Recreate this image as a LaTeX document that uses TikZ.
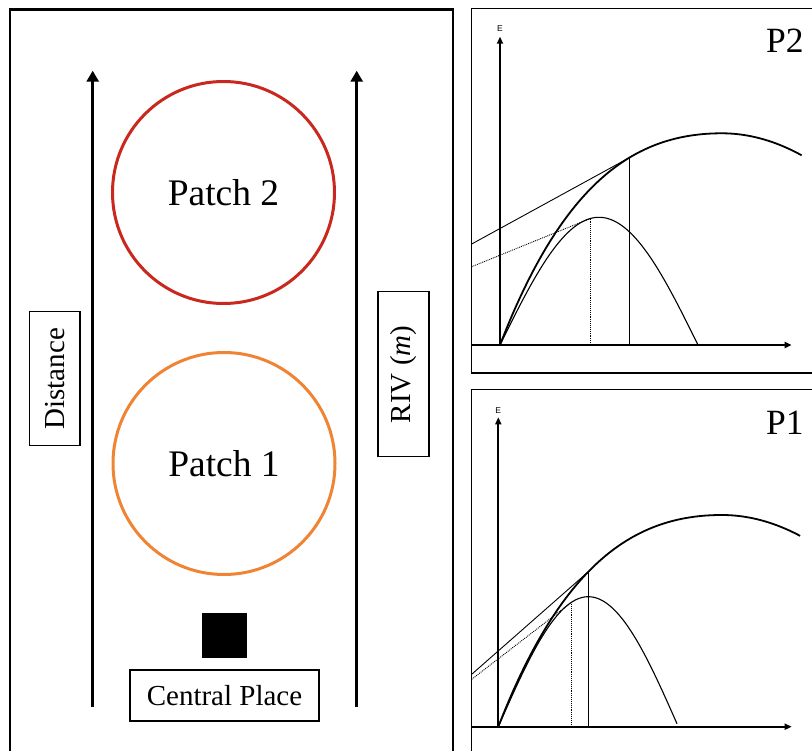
\documentclass[tikz,border=0pt]{standalone}
\usepackage{fontspec}
\setmainfont{Liberation Serif}
\setsansfont{Liberation Sans}
\usetikzlibrary{arrows.meta}
\definecolor{patchred}{RGB}{200,40,30}
\definecolor{patchorange}{RGB}{238,132,52}
\begin{document}
\begin{tikzpicture}[x=1pt,y=-1pt,
  frame/.style={draw, line width=2.7pt},
  panel/.style={draw, line width=1.5pt},
  bigarrow/.style={line width=3pt, -{Triangle[width=12pt,length=11pt]}},
  axis/.style={line width=2pt, -{Triangle[width=6pt,length=7pt]}},
  labelbox/.style={draw, line width=1.2pt, inner sep=0pt, font=\fontsize{29}{31}\selectfont},
  patch/.style={circle, draw, line width=3pt, minimum size=222pt, inner sep=0pt, font=\fontsize{37.5}{40}\selectfont},
  gain/.style={line width=1.8pt},
  rate/.style={line width=1.1pt},
  tang/.style={line width=0.9pt},
  dtang/.style={line width=0.9pt, densely dotted},
  plabel/.style={anchor=base west, inner sep=0pt, font=\fontsize{35.5}{38}\selectfont},
  elabel/.style={inner sep=0pt, font=\sffamily\fontsize{8.5}{9}\selectfont}
]
\useasboundingbox (0,0) rectangle (812,751);

% ---------- left panel ----------
\draw[frame] (10,770) -- (10,9.5) -- (453,9.5) -- (453,770);

\coordinate (la0) at (92.7,706.7);
\coordinate (la1) at (92.7,70.7);
\coordinate (ra0) at (356.7,706.7);
\coordinate (ra1) at (356.7,70.7);
\draw[bigarrow] (la0) -- (la1);
\draw[bigarrow] (ra0) -- (ra1);

\node[patch, draw=patchred] (p2) at (223.5,192.5) {\raisebox{-2pt}{Patch 2}};
\node[patch, draw=patchorange] (p1) at (224,463.5) {\raisebox{-2pt}{Patch 1}};

\node[fill=black, minimum size=45pt, inner sep=0pt] (cp) at (224.5,635.5) {};
\node[labelbox, minimum width=189pt, minimum height=51pt] (cpl) at (224.5,695.5) {Central Place};

\node[labelbox, rotate=90, minimum width=134pt, minimum height=50.7pt] (dist) at (54.7,378.7) {Distance};
\node[labelbox, rotate=90, minimum width=165pt, minimum height=51pt] (riv) at (403.5,374.3) {RIV (\textit{m})};

% ---------- P2 panel ----------
\draw[panel] (830,373) -- (471.7,373) -- (471.7,8.3) -- (830,8.3);
\coordinate (o2) at (500,345);
\coordinate (xl2) at (471.7,345);
\coordinate (xe2) at (791.7,345);
\coordinate (ye2) at (500,36.7);
\draw[axis] (xl2) -- (xe2);
\draw[axis] (o2) -- (ye2);
\node[elabel] (e2) at (500,29) {E};
\node[plabel] (l2) at (766,53) {P2};

\draw[gain] plot[domain=0:1, samples=80, smooth] ({500+221.7*\x}, {345-211.7*\x*exp(1-\x)})
  -- plot[domain=1:1.361, samples=30, smooth] ({500+221.7*\x}, {345-211.7*(1-0.8*(\x-1)^2)});
\draw[rate] plot[domain=0:198, samples=80, smooth] ({500+\x}, {345-127.7*sin(0.90909*\x)});

\coordinate (t2) at (629.3, {345-211.7*0.5832*exp(1-0.5832)});
\coordinate (t2b) at (629.3,345);
\coordinate (t2l) at (471.7,244);
\draw[tang] (t2l) -- (t2);
\draw[tang] (t2) -- (t2b);
\coordinate (d2) at (590, {345-127.7*sin(81.818)});
\coordinate (d2b) at (590,345);
\coordinate (d2l) at (471.7,266.7);
\draw[dtang] (d2l) -- (d2);
\draw[dtang] (d2) -- (d2b);

% ---------- P1 panel ----------
\draw[panel] (830,389.3) -- (471.7,389.3) -- (471.7,770);
\coordinate (o1) at (498.3,726.7);
\coordinate (xl1) at (471.7,726.7);
\coordinate (xe1) at (791.7,726.7);
\coordinate (ye1) at (498.3,417.3);
\draw[axis] (xl1) -- (xe1);
\draw[axis] (o1) -- (ye1);
\node[elabel] (e1) at (498.3,410.7) {E};
\node[plabel] (l1) at (766,435) {P1};

\draw[gain] plot[domain=0:1, samples=80, smooth] ({498.3+223.4*\x}, {726.7-211.7*\x*exp(1-\x)})
  -- plot[domain=1:1.351, samples=30, smooth] ({498.3+223.4*\x}, {726.7-211.7*(1-0.8*(\x-1)^2)});
\draw[rate] plot[domain=0:178.7, samples=80, smooth] ({498.3+\x}, {726.7-130*sin(\x)});

\coordinate (t1) at (588.3, {726.7-211.7*0.4029*exp(1-0.4029)});
\coordinate (t1b) at (588.3,726.7);
\coordinate (t1l) at (471.7,674.3);
\draw[tang] (t1l) -- (t1);
\draw[tang] (t1) -- (t1b);
\coordinate (d1) at (571.7, {726.7-130*sin(73.4)});
\coordinate (d1b) at (571.7,726.7);
\coordinate (d1l) at (471.7,679.3);
\draw[dtang] (d1l) -- (d1);
\draw[dtang] (d1) -- (d1b);
\end{tikzpicture}
\end{document}
